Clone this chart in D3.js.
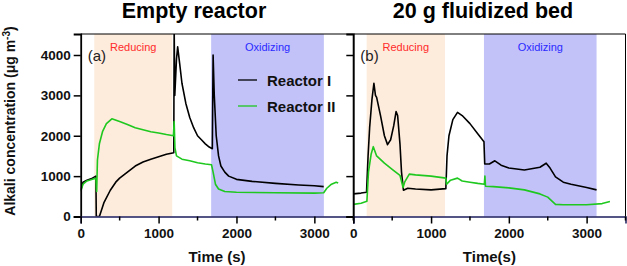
<!DOCTYPE html>
<html>
<head>
<meta charset="utf-8">
<script src="https://cdn.jsdelivr.net/npm/d3@7"></script>
<style>
  body { margin: 0; background: #fff; }
  text { font-family: "Liberation Sans", Arial, sans-serif; }
</style>
</head>
<body>
<svg id="chart" width="627" height="266"></svg>
<script>
// ---- data ----
const panelTitles = ["Empty reactor", "20 g fluidized bed"];
const panelTags = ["(a)", "(b)"];
const axisTitles = ["Time (s)", "Time(s)"];
const seriesNames = ["Reactor I", "Reactor II"];
const xTicks = [0, 1000, 2000, 3000];
const xMinor = [500, 1500, 2500, 3500];
const yTicks = [0, 1000, 2000, 3000, 4000];

// phase windows [start, end] in seconds
const reducingA = [175, 1175], oxidizingA = [1675, 3122];
const reducingB = [172, 1178], oxidizingB = [1680, 3128];

// empty reactor
const a1t = [0, 30, 80, 150, 195, 200, 240, 300, 380, 450, 500, 600, 700, 800, 900, 1000, 1100, 1195, 1200, 1208, 1230, 1245, 1270, 1300, 1350, 1400, 1450, 1500, 1550, 1600, 1650, 1690, 1700, 1715, 1740, 1770, 1800, 1850, 1900, 2000, 2200, 2500, 2800, 3000, 3120];
const a1v = [650, 850, 900, 950, 1000, 0, 0, 350, 650, 850, 950, 1100, 1250, 1350, 1420, 1480, 1540, 1580, 4700, 3000, 3900, 4200, 3800, 3300, 2800, 2450, 2200, 2000, 1900, 1800, 1720, 1680, 4000, 3000, 2000, 1500, 1250, 1100, 1000, 920, 870, 820, 780, 760, 740];
const a2t = [0, 30, 80, 150, 195, 205, 215, 240, 280, 330, 400, 500, 600, 700, 800, 900, 1000, 1100, 1190, 1200, 1210, 1230, 1300, 1400, 1500, 1600, 1680, 1700, 1730, 1770, 1850, 2000, 2500, 3000, 3120, 3160, 3220, 3280, 3306];
const a2v = [620, 800, 880, 920, 950, 620, 1400, 1800, 2100, 2300, 2420, 2350, 2280, 2200, 2150, 2100, 2070, 2030, 2000, 2350, 1700, 1500, 1420, 1380, 1330, 1300, 1280, 1100, 800, 680, 620, 600, 590, 580, 590, 700, 800, 850, 830];

// 20 g fluidized bed
const b1t = [0, 100, 170, 190, 210, 240, 265, 285, 300, 350, 400, 440, 480, 520, 550, 570, 600, 620, 645, 700, 800, 1000, 1190, 1205, 1230, 1280, 1340, 1400, 1500, 1600, 1680, 1690, 1750, 1820, 1900, 2000, 2200, 2400, 2480, 2530, 2600, 2700, 2800, 3000, 3128];
const b1v = [560, 580, 600, 1500, 2200, 2900, 3300, 3000, 2950, 2500, 2000, 1780, 1900, 2250, 2600, 2500, 1800, 1100, 650, 700, 680, 660, 690, 1500, 2000, 2400, 2580, 2500, 2300, 2050, 1850, 1300, 1300, 1380, 1270, 1200, 1150, 1220, 1320, 1200, 980, 850, 800, 720, 660];
const b2t = [0, 100, 175, 195, 230, 257, 300, 400, 500, 600, 640, 660, 720, 800, 1000, 1190, 1200, 1250, 1340, 1400, 1500, 1600, 1685, 1692, 1700, 1800, 2000, 2200, 2400, 2500, 2600, 2700, 3000, 3200, 3300];
const b2v = [300, 330, 380, 1100, 1550, 1730, 1500, 1320, 1170, 1020, 720, 850, 1050, 1030, 1000, 950, 800, 900, 950, 880, 850, 820, 800, 1000, 750, 740, 710, 660, 560, 480, 300, 290, 290, 320, 370];

const colors = ["#000000", "#1fc81f"];

const svg = d3.select("#chart");

const y = d3.scaleLinear().domain([0, 4520]).range([216.5, 34]);

const panels = [
  { x: d3.scaleLinear().domain([0, 3500]).range([80.7, 353.3]),
    red: reducingA, ox: oxidizingA,
    series: [[a1t, a1v], [a2t, a2v]], titleX: 194, labels: true },
  { x: d3.scaleLinear().domain([0, 3500]).range([353.3, 625.5]),
    red: reducingB, ox: oxidizingB,
    series: [[b1t, b1v], [b2t, b2v]], titleX: 483, labels: false }
];

panels.forEach(function (p, i) {
  const x = p.x;
  const g = svg.append("g");
  const x0 = x.range()[0], x1 = x.range()[1];

  // clip so the spikes stop at the frame
  svg.append("clipPath").attr("id", "clip" + i)
    .append("rect")
    .attr("x", x0).attr("y", y.range()[1])
    .attr("width", x1 - x0).attr("height", y.range()[0] - y.range()[1]);

  // phase shading
  g.append("rect")
    .attr("x", x(p.red[0])).attr("width", x(p.red[1]) - x(p.red[0]))
    .attr("y", y.range()[1]).attr("height", y.range()[0] - y.range()[1])
    .attr("fill", "#fdebdb");
  g.append("rect")
    .attr("x", x(p.ox[0])).attr("width", x(p.ox[1]) - x(p.ox[0]))
    .attr("y", y.range()[1]).attr("height", y.range()[0] - y.range()[1])
    .attr("fill", "#c2c2f9");

  g.append("text").attr("x", x((p.red[0] + p.red[1]) / 2)).attr("y", 51)
    .attr("text-anchor", "middle").attr("font-size", 11).attr("fill", "#ff2a2a")
    .text("Reducing");
  g.append("text").attr("x", x((p.ox[0] + p.ox[1]) / 2)).attr("y", 51)
    .attr("text-anchor", "middle").attr("font-size", 11).attr("fill", "#2a2aff")
    .text("Oxidizing");

  g.append("text").attr("x", x0 + 7).attr("y", 60.5)
    .attr("font-size", 15).attr("fill", "#222").text(panelTags[i]);

  // lines
  const line = d3.line().x(d => x(d[0])).y(d => y(d[1]));
  p.series.forEach(function (s, k) {
    const pts = d3.zip(s[0], s[1]);
    g.append("path").datum(pts)
      .attr("clip-path", "url(#clip" + i + ")")
      .attr("fill", "none")
      .attr("stroke", colors[k])
      .attr("stroke-width", 1.6)
      .attr("stroke-linejoin", "round")
      .attr("d", line);
  });

  // frame top / right
  g.append("line").attr("x1", x0).attr("x2", x1)
    .attr("y1", y.range()[1]).attr("y2", y.range()[1])
    .attr("stroke", "#000").attr("stroke-width", 1);
  g.append("line").attr("x1", x1).attr("x2", x1)
    .attr("y1", y.range()[1]).attr("y2", y.range()[0])
    .attr("stroke", "#000").attr("stroke-width", 1);

  // y axis
  const yAxis = d3.axisLeft(y).tickValues(yTicks).tickSize(7).tickPadding(3)
    .tickFormat(p.labels ? d3.format("d") : "");
  const ya = svg.append("g").attr("transform", "translate(" + x0 + ",0)").call(yAxis);
  ya.select(".domain").attr("stroke-width", 1.8);
  ya.selectAll(".tick line").attr("stroke-width", 1.5);
  ya.selectAll("text").attr("font-size", 13.5).attr("font-weight", "bold")
    .attr("font-family", "Liberation Sans, Arial, sans-serif").attr("fill", "#111");

  // x axis
  const xAxis = d3.axisBottom(x).tickValues(xTicks).tickSize(7).tickPadding(5)
    .tickFormat(d3.format("d"));
  const xa = svg.append("g").attr("transform", "translate(0," + y.range()[0] + ")").call(xAxis);
  xa.select(".domain").attr("stroke", "#1c1c5e").attr("stroke-width", 1.5);
  xa.selectAll(".tick line").attr("stroke-width", 1.5);
  xa.selectAll("text").attr("font-size", 13.5).attr("font-weight", "bold")
    .attr("font-family", "Liberation Sans, Arial, sans-serif").attr("fill", "#111");
  xa.selectAll(".minor").data(xMinor).join("line")
    .attr("class", "minor")
    .attr("x1", d => x(d)).attr("x2", d => x(d))
    .attr("y1", 0).attr("y2", 4)
    .attr("stroke", "#000").attr("stroke-width", 1.5);

  svg.append("text").attr("x", (x0 + x1) / 2).attr("y", 262)
    .attr("text-anchor", "middle").attr("font-size", 15).attr("font-weight", "bold")
    .attr("fill", "#111").text(axisTitles[i]);

  svg.append("text").attr("x", p.titleX).attr("y", 17.5)
    .attr("text-anchor", "middle").attr("font-size", 21.5).attr("font-weight", "bold")
    .attr("fill", "#000").text(panelTitles[i]);
});

// legend (left panel)
const legend = svg.append("g");
seriesNames.forEach(function (name, k) {
  const ly = 80 + k * 26;
  legend.append("line").attr("x1", 238).attr("x2", 257).attr("y1", ly).attr("y2", ly)
    .attr("stroke", colors[k]).attr("stroke-width", 1.3);
  legend.append("text").attr("x", 267).attr("y", ly + 5.5)
    .attr("font-size", 15).attr("font-weight", "bold").attr("fill", "#111").text(name);
});

// y axis title
const yt = svg.append("text")
  .attr("transform", "translate(15,121) rotate(-90)")
  .attr("text-anchor", "middle").attr("font-size", 14).attr("font-weight", "bold")
  .attr("fill", "#111");
yt.append("tspan").text("Alkali concentration (μg m");
yt.append("tspan").attr("font-size", 10).attr("dy", -5).text("-3");
yt.append("tspan").attr("dy", 5).text(")");
</script>
</body>
</html>
